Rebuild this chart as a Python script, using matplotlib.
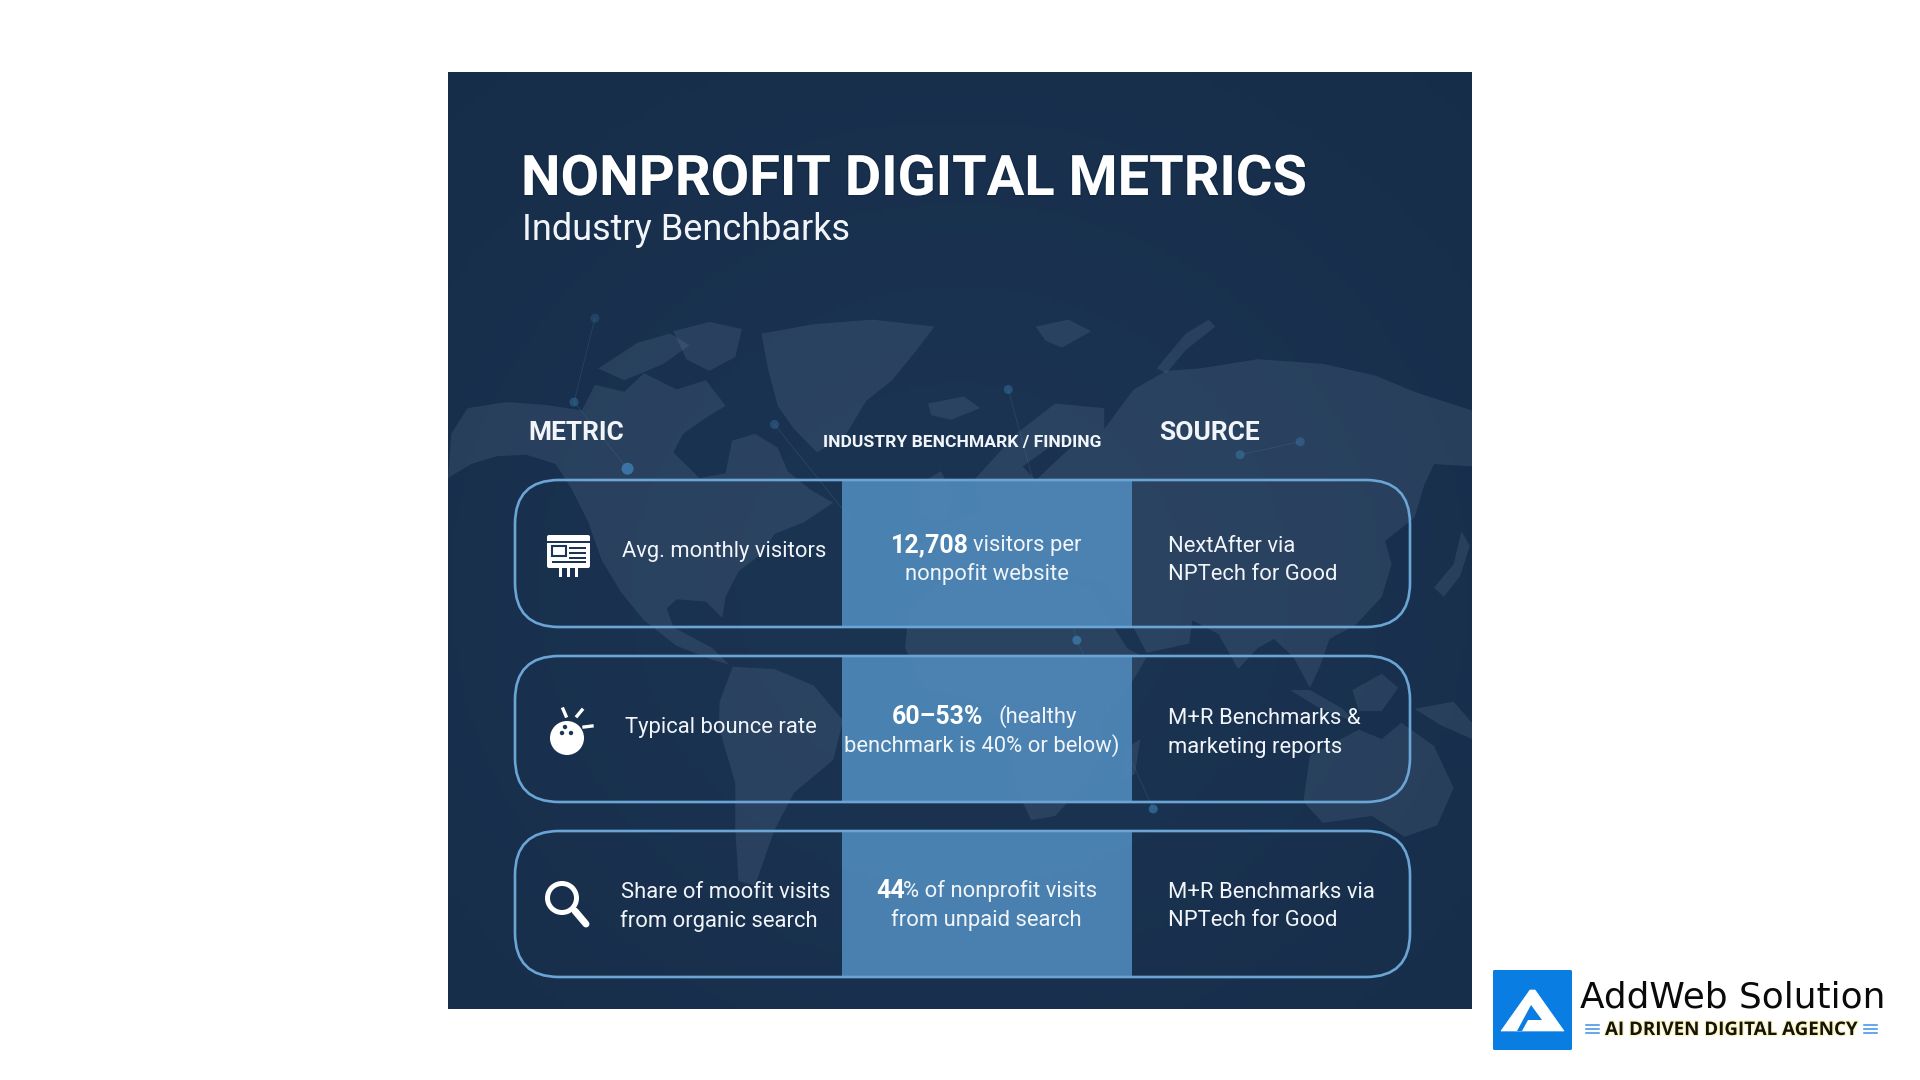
import numpy as np
import matplotlib
matplotlib.use("Agg")
import matplotlib.pyplot as plt
import matplotlib.patheffects as pe
from matplotlib.patches import Circle, FancyBboxPatch, Polygon, Rectangle, Wedge

plt.rcParams["font.family"] = ["Roboto", "DejaVu Sans"]

TITLE = "NONPROFIT DIGITAL METRICS"
SUBTITLE = "Industry Benchbarks"
HEADERS = ["METRIC", "INDUSTRY BENCHMARK / FINDING", "SOURCE"]
METRICS = [["Avg. monthly visitors"], ["Typical bounce rate"], ["Share of moofit visits", "from organic search"]]
FINDINGS_BOLD = ["12,708", "60\u201353%", "44"]
FINDINGS_REST = ["visitors per", "(healthy", "% of nonprofit visits"]
FINDINGS_LINE2 = ["nonpofit website", "benchmark is 40% or below)", "from unpaid search"]
SOURCES = [["NextAfter via", "NPTech for Good"], ["M+R Benchmarks &", "marketing reports"], ["M+R Benchmarks via", "NPTech for Good"]]

TEXT = "#f1f5f9"
LINE = "#6ba5d6"

# backdrop map outlines, in units of the panel's lower part
NORTH_AMERICA = [(5, 330), (30, 275), (90, 262), (150, 268), (205, 280), (225, 225), (270, 240), (300, 200), (350, 235), (395, 215),
                 (425, 270), (390, 300), (360, 330), (345, 370), (385, 425), (425, 415), (435, 345), (470, 330), (505, 360),
                 (520, 410), (555, 450), (590, 478), (545, 520), (500, 545), (478, 590), (445, 625), (425, 680), (420, 725),
                 (395, 690), (350, 685), (335, 705), (345, 745), (385, 775), (405, 790), (430, 825), (405, 815), (350, 785),
                 (300, 730), (265, 670), (235, 600), (215, 520), (190, 450), (165, 395), (120, 375), (75, 378), (35, 395), (0, 425)]
ARCTIC_1 = [(230, 190), (290, 135), (340, 115), (370, 140), (330, 180), (270, 215)]
ARCTIC_2 = [(345, 110), (400, 90), (450, 105), (440, 165), (400, 195), (365, 170)]
GREENLAND = [(480, 115), (560, 95), (650, 85), (745, 100), (715, 155), (680, 215), (640, 260), (610, 330), (565, 370), (530, 320),
             (505, 270), (490, 190)]
SOUTH_AMERICA = [(436, 830), (500, 835), (560, 870), (605, 945), (590, 1030), (530, 1100), (500, 1180), (470, 1300),
                 (445, 1290), (440, 1180), (440, 1080), (415, 960), (416, 905)]
AFRICA = [(745, 655), (800, 635), (850, 650), (920, 645), (985, 660), (1015, 735), (1040, 790), (1069, 812), (1040, 880), (1000, 945),
          (1005, 1010), (975, 1080), (930, 1150), (893, 1159), (870, 1090), (860, 1010), (850, 945), (800, 895), (730, 880),
          (700, 790), (705, 715)]
EURASIA = [(1050, 235), (1100, 195), (1150, 190), (1240, 170), (1340, 180), (1420, 205), (1480, 240), (1568, 280), (1568, 400),
           (1510, 395), (1495, 440), (1480, 510), (1435, 560), (1445, 610), (1430, 680), (1390, 740), (1350, 770), (1335, 830),
           (1320, 875), (1295, 810), (1265, 770), (1240, 790), (1210, 835), (1180, 760), (1140, 730), (1135, 780), (1070, 800),
           (1040, 720), (1005, 650), (950, 632), (900, 612), (860, 640), (800, 610), (730, 625), (712, 575), (760, 525), (820, 495),
           (805, 430), (870, 330), (930, 265), (1005, 275), (1005, 320)]
SCANDINAVIA_GAP = [(880, 400), (930, 350), (965, 345), (930, 390), (900, 430)]
NOVAYA = [(1085, 190), (1130, 115), (1165, 85), (1175, 100), (1130, 150), (1100, 200)]
SVALBARD = [(900, 100), (950, 85), (985, 110), (940, 145), (915, 130)]
ICELAND = [(735, 265), (790, 250), (815, 275), (770, 300), (740, 290)]
BRITAIN = [(720, 440), (755, 410), (775, 470), (760, 520), (725, 505)]
AUSTRALIA = [(1320, 1020), (1395, 965), (1430, 985), (1460, 950), (1510, 1000), (1540, 1090), (1515, 1170), (1465, 1195), (1415, 1150),
             (1340, 1165), (1310, 1120)]
SUMATRA = [(1290, 880), (1330, 915), (1390, 950), (1370, 920), (1320, 880)]
BORNEO = [(1385, 880), (1430, 845), (1455, 875), (1430, 925), (1395, 925)]
PAPUA = [(1480, 920), (1540, 905), (1568, 950), (1568, 985), (1520, 955)]
JAPAN = [(1510, 660), (1540, 610), (1552, 540), (1565, 570), (1550, 635), (1525, 680)]
MADAGASCAR = [(1035, 1010), (1060, 985), (1052, 1060), (1030, 1080)]
LAND = [NORTH_AMERICA, ARCTIC_1, ARCTIC_2, GREENLAND, SOUTH_AMERICA, AFRICA, EURASIA, NOVAYA, SVALBARD, ICELAND, BRITAIN,
        AUSTRALIA, SUMATRA, BORNEO, PAPUA, JAPAN, MADAGASCAR]
NODES = [(225, 82), (193, 262), (275, 405), (500, 310), (858, 235), (1213, 375), (1305, 347), (963, 773), (1080, 1135), (615, 510)]
NODE_ALPHA = [0.25, 0.4, 0.8, 0.35, 0.4, 0.45, 0.4, 0.7, 0.6, 0.25]
NODE_LINKS = [(0, 1), (1, 2), (3, 9), (5, 6), (4, 7), (7, 8)]


def to_px(p):
    return (448 + p[0] * 0.653, 280 + p[1] * 0.466)


fig = plt.figure(figsize=(19.2, 10.8), dpi=100, facecolor="white")
ax = fig.add_axes([0, 0, 1, 1])

# panel with a soft gradient
yy, xx = np.mgrid[0:1:200j, 0:1:200j]
glow = np.exp(-(((xx - 0.5) / 0.6) ** 2 + ((yy - 0.55) / 0.6) ** 2))
dark = np.array([0x15, 0x2c, 0x47]) / 255
light = np.array([0x1b, 0x34, 0x52]) / 255
grad = dark + (light - dark) * glow[..., None]
ax.imshow(grad, extent=(448, 1472, 1009, 72), aspect="auto", zorder=0)
panel = Rectangle((448, 72), 1024, 937, transform=ax.transData, fc="none", ec="none")
ax.add_patch(panel)

for shape in LAND:
    poly = Polygon([to_px(p) for p in shape], closed=True, fc="#9bb2cc", ec="none", alpha=0.13, zorder=1)
    ax.add_patch(poly)
    poly.set_clip_path(panel)
# darker inlet between Scandinavia and the mainland
ax.add_patch(Polygon([to_px(p) for p in SCANDINAVIA_GAP], closed=True, fc="#1a3250", ec="none", zorder=1.1))

for a, b in NODE_LINKS:
    pa, pb = to_px(NODES[a]), to_px(NODES[b])
    ax.plot([pa[0], pb[0]], [pa[1], pb[1]], color="#4a7fae", lw=0.6, alpha=0.25, zorder=1.5)
for i, n in enumerate(NODES):
    ax.add_patch(Circle(to_px(n), 6 if i == 2 else 4.5, fc="#3f7fb4", ec="none", alpha=NODE_ALPHA[i], zorder=1.6))

# rows
row_top = [480, 656, 831]
row_bot = [627, 802, 977]
for top, bot in zip(row_top, row_bot):
    ax.add_patch(Rectangle((842, top), 290, bot - top, fc="#4f8abb", ec="none", alpha=0.9, zorder=2))
    ax.add_patch(FancyBboxPatch((515 + 44, top + 44), 895 - 88, bot - top - 88, boxstyle="round,pad=44,rounding_size=44",
                                fc="none", ec=LINE, lw=1.9, zorder=3))

# title block
ax.text(521, 195, TITLE, color="white", fontsize=40.3, fontweight="bold", va="baseline", ha="left", zorder=5,
        path_effects=[pe.withStroke(linewidth=2, foreground="#10263f", alpha=0.5)])
ax.text(522, 240, SUBTITLE, color=TEXT, fontsize=26, va="baseline", ha="left", zorder=5)

ax.text(528, 433, HEADERS[0], color=TEXT, fontsize=19, fontweight="bold", va="center", ha="left", zorder=5)
ax.text(962, 443, HEADERS[1], color=TEXT, fontsize=12.6, fontweight="bold", va="center", ha="center", zorder=5)
ax.text(1159, 433, HEADERS[2], color=TEXT, fontsize=19, fontweight="bold", va="center", ha="left", zorder=5)

BODY = 15.8

# metric column
metric_x = [622, 625, 621]
metric_y = [[551], [728], [892, 921]]
for row, lines in enumerate(METRICS):
    for k, line in enumerate(lines):
        x = metric_x[row] - (1 if k == 1 else 0)
        ax.text(x, metric_y[row][k], line, color=TEXT, fontsize=BODY, va="center", ha="left", zorder=5)

# finding column, bold lead then regular text
bold_x = [891, 892, 876]
rest_x = [973, 999, 903]
line1_y = [545, 717, 891]
line2_x = [987, 982, 986]
line2_y = [574, 746, 920]
for row in range(3):
    ax.text(bold_x[row], line1_y[row], FINDINGS_BOLD[row], color="white", fontsize=18, fontweight="bold", va="center", ha="left", zorder=5)
    ax.text(rest_x[row], line1_y[row], FINDINGS_REST[row], color=TEXT, fontsize=BODY, va="center", ha="left", zorder=5)
    ax.text(line2_x[row], line2_y[row], FINDINGS_LINE2[row], color=TEXT, fontsize=BODY, va="center", ha="center", zorder=5)

# source column
source_y = [[546, 575], [718, 748], [892, 921]]
for row, lines in enumerate(SOURCES):
    for k, line in enumerate(lines):
        ax.text(1168, source_y[row][k], line, color=TEXT, fontsize=BODY, va="center", ha="left", zorder=5)

# browser icon
ax.add_patch(FancyBboxPatch((547, 535), 43, 33, boxstyle="round,pad=0,rounding_size=2", fc="white", ec="none", zorder=5))
ax.add_patch(Rectangle((547, 541), 43, 2, fc="#1b3654", ec="none", zorder=6))
ax.add_patch(Rectangle((552, 546), 14, 10, fc="none", ec="#1b3654", lw=1.5, zorder=6))
for y0 in [547, 552, 557]:
    ax.add_patch(Rectangle((569, y0), 17, 2, fc="#1b3654", ec="none", zorder=6))
ax.add_patch(Rectangle((552, 561), 34, 1.5, fc="#1b3654", ec="none", zorder=6))
for x0, y0, h in [(560, 567, 10), (568, 565, 12), (576, 567, 10)]:
    ax.add_patch(Rectangle((x0 - 1.5, y0), 3, h, fc="white", ec="none", zorder=6))

# bowling ball icon
ax.add_patch(Circle((567, 738), 17, fc="white", ec="none", zorder=5))
for c in [(565, 727), (562, 733), (571, 733)]:
    ax.add_patch(Circle(c, 2.2, fc="#1b3654", ec="none", zorder=6))
ax.plot([563, 566], [709, 716], color="white", lw=2.4, zorder=5)
ax.plot([577, 582], [716, 710], color="white", lw=2.4, zorder=5)
ax.plot([584, 592], [727, 726], color="white", lw=2.4, zorder=5)

# magnifier icon
ax.add_patch(Wedge((562, 898), 17, 0, 360, width=5, fc="white", ec="none", zorder=5))
ax.plot([575, 586], [911, 924], color="white", lw=5, solid_capstyle="round", zorder=5)

# logo
ax.add_patch(FancyBboxPatch((1493, 970), 79, 80, boxstyle="round,pad=0,rounding_size=1.5", fc="#0a7de3", ec="none", zorder=5))
ax.add_patch(Polygon([(1501, 1031), (1530, 990), (1535, 990), (1564, 1031)], closed=True, fc="white", ec="#ffffff", lw=0.5, zorder=6))
ax.add_patch(Polygon([(1517, 1031), (1531, 1005), (1542, 1020), (1528, 1020), (1522, 1031)], closed=True, fc="#0a7de3", ec="none", zorder=7))
ax.text(1580, 1007, "AddWeb Solution", color="#0a0a0a", fontsize=25.8, family=["DejaVu Sans"], va="baseline", ha="left", zorder=5)
ax.text(1605, 1035, "AI DRIVEN DIGITAL AGENCY", color="#15140a", fontsize=13.5, fontweight="bold", family=["Open Sans", "DejaVu Sans"],
        va="baseline", ha="left", zorder=5, path_effects=[pe.withStroke(linewidth=2, foreground="#fbf6c8")])
for x0, x1 in [(1586, 1599), (1864, 1877)]:
    for y0 in [1025, 1029, 1033]:
        ax.plot([x0, x1], [y0, y0], color="#3b8fe6", lw=1.1, zorder=5)

ax.set_xlim(0, 1920)
ax.set_ylim(1080, 0)
ax.axis("off")

fig.savefig("out.png", dpi=100, facecolor="white")
